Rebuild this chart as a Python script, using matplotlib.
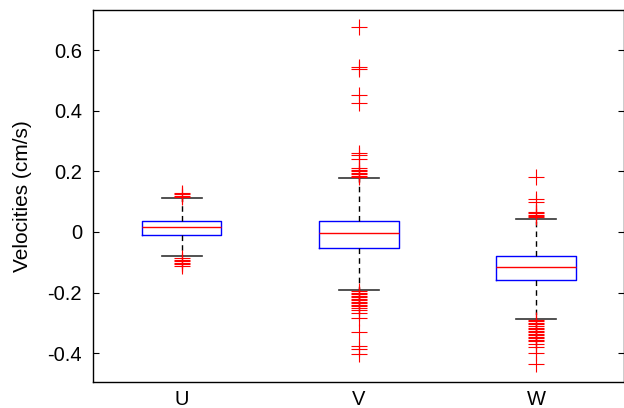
import matplotlib
matplotlib.use("Agg")
import matplotlib.pyplot as plt

plt.rcParams['font.family'] = ['Liberation Sans', 'DejaVu Sans']

# box statistics
labels = ['U', 'V', 'W']
medians = [0.017, -0.004, -0.117]
q1s = [-0.010, -0.053, -0.159]
q3s = [0.037, 0.037, -0.079]
whis_lo = [-0.079, -0.190, -0.286]
whis_hi = [0.112, 0.177, 0.043]

fliers_u = [0.116, 0.120, 0.124, 0.128,
            -0.086, -0.091, -0.096, -0.101, -0.106, -0.111]
fliers_v = [0.675, 0.545, 0.538, 0.452, 0.425, 0.260, 0.255, 0.240, 0.210,
            0.205, 0.200, 0.195, 0.190, 0.185, 0.180,
            -0.195, -0.200, -0.205, -0.210, -0.215, -0.220, -0.225, -0.230,
            -0.235, -0.240, -0.245, -0.250, -0.258, -0.268, -0.283, -0.330,
            -0.376, -0.387, -0.401]
fliers_w = [0.181, 0.108, 0.100, 0.067, 0.062, 0.057, 0.052, 0.048,
            -0.290, -0.295, -0.300, -0.305, -0.310, -0.315, -0.320, -0.325,
            -0.330, -0.335, -0.340, -0.345, -0.350, -0.355, -0.360, -0.370,
            -0.380, -0.398, -0.434]
fliers = [fliers_u, fliers_v, fliers_w]

stats = []
for i in range(3):
    stats.append({'label': labels[i], 'med': medians[i], 'q1': q1s[i], 'q3': q3s[i],
                  'whislo': whis_lo[i], 'whishi': whis_hi[i], 'fliers': fliers[i]})

fig = plt.figure(figsize=(6.24, 4.08), dpi=100)
ax = fig.add_axes([93/624, 1 - 381.5/408, 531.5/624, 371.5/408])

ax.bxp(stats, positions=[1, 2, 3], widths=0.45, showfliers=True,
       boxprops=dict(color='blue', linewidth=1),
       medianprops=dict(color='red', linewidth=1),
       whiskerprops=dict(color='black', linestyle=(0, (4, 3)), linewidth=1),
       capprops=dict(color='#333333', linewidth=1.2),
       flierprops=dict(marker='+', markeredgecolor='red', markersize=11,
                       markeredgewidth=0.8, linestyle='none'))

ax.set_xlim(0.5, 3.5)
ax.set_ylim(-0.493, 0.732)
ax.set_yticks([-0.4, -0.2, 0, 0.2, 0.4, 0.6])
ax.set_yticklabels(['-0.4', '-0.2', '0', '0.2', '0.4', '0.6'])
ax.set_xticks([1, 2, 3])
ax.set_xticklabels(labels)
ax.tick_params(axis='y', direction='in', length=4, right=True, labelsize=14.5, pad=8)
ax.tick_params(axis='x', length=0, labelsize=14.5, pad=6)
ax.set_ylabel('Velocities (cm/s)', fontsize=15, labelpad=11)
for s in ax.spines.values():
    s.set_linewidth(1)

fig.savefig('out.png', dpi=100)
